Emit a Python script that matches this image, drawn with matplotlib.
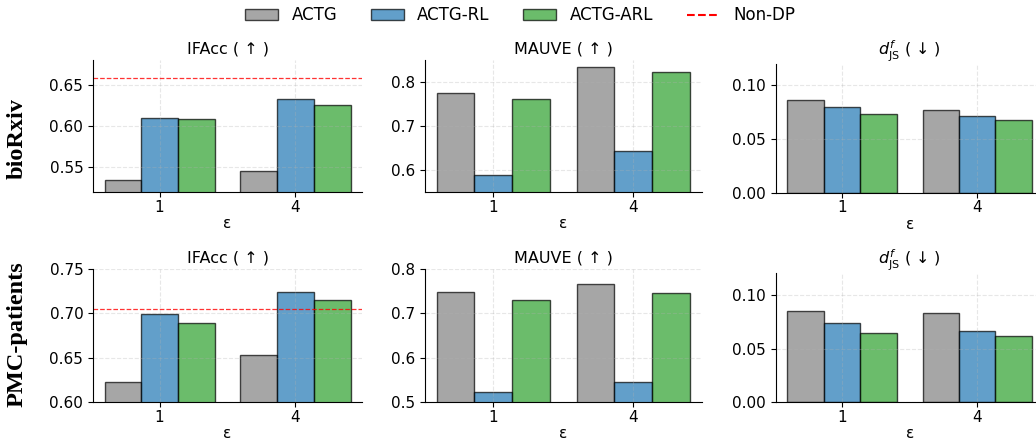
import numpy as np
import matplotlib.pyplot as plt
from matplotlib.patches import Patch
from matplotlib.lines import Line2D

eps_labels = ["1", "4"]
methods = ["ACTG", "ACTG-RL", "ACTG-ARL"]
colors = ["gray", "tab:blue", "tab:green"]
datasets = ["bioRxiv", "PMC-patients"]
metric_titles = ["IFAcc ( ↑ )", "MAUVE ( ↑ )", "$d^{f}_{\\mathrm{JS}}$ ( ↓ )"]

# bioRxiv
bio_ifacc = [[0.534, 0.546], [0.610, 0.633], [0.608, 0.625]]
bio_mauve = [[0.776, 0.834], [0.588, 0.644], [0.761, 0.823]]
bio_djs = [[0.0866, 0.0773], [0.0795, 0.0718], [0.0736, 0.0674]]
bio_nondp = 0.658

# PMC-patients
pmc_ifacc = [[0.622, 0.653], [0.699, 0.7245], [0.689, 0.715]]
pmc_mauve = [[0.749, 0.765], [0.523, 0.545], [0.731, 0.746]]
pmc_djs = [[0.0854, 0.0829], [0.0739, 0.0662], [0.0646, 0.0621]]
pmc_nondp = 0.7053

all_data = [[bio_ifacc, bio_mauve, bio_djs], [pmc_ifacc, pmc_mauve, pmc_djs]]
nondp = [bio_nondp, pmc_nondp]
ylims = [[(0.52, 0.68), (0.55, 0.85), (0, 0.12)],
         [(0.60, 0.75), (0.5, 0.8), (0, 0.12)]]
yticks = [[[0.55, 0.60, 0.65], [0.6, 0.7, 0.8], [0.0, 0.05, 0.10]],
          [[0.60, 0.65, 0.70, 0.75], [0.5, 0.6, 0.7, 0.8], [0.0, 0.05, 0.10]]]
ytick_fmt = [["%.2f", "%.1f", "%.2f"], ["%.2f", "%.1f", "%.2f"]]

# axes boxes (left, bottom, width, height) in figure fraction
boxes = [[(0.0898, 0.5636, 0.2597, 0.300), (0.4100, 0.5636, 0.2676, 0.300), (0.7490, 0.5621, 0.2582, 0.2925)],
         [(0.0898, 0.0864, 0.2597, 0.3023), (0.4100, 0.0864, 0.2676, 0.3023), (0.7490, 0.0857, 0.2582, 0.2930)]]

plt.rcParams['font.size'] = 11

fig = plt.figure(figsize=(10.36, 4.4), dpi=100)
x = np.arange(len(eps_labels))
w = 0.27

for r in range(2):
    for c in range(3):
        ax = fig.add_axes(boxes[r][c])
        vals = all_data[r][c]
        for i in range(3):
            ax.bar(x + (i - 1) * w, vals[i], width=w, color=colors[i],
                   edgecolor='black', linewidth=1.0, alpha=0.7)
        if c == 0:
            ax.axhline(nondp[r], color='red', linestyle='--', linewidth=0.9, alpha=0.8)
        ax.set_xticks(x)
        ax.set_xticklabels(eps_labels)
        ax.set_xlim(-0.49, 1.49)
        ax.set_ylim(*ylims[r][c])
        ax.set_yticks(yticks[r][c])
        ax.set_yticklabels([ytick_fmt[r][c] % v for v in yticks[r][c]])
        ax.tick_params(axis='x', pad=2)
        ax.set_xlabel("ε", fontsize=11, labelpad=1)
        ax.set_title(metric_titles[c], fontsize=11.5, pad=5)
        ax.grid(True, linestyle='--', alpha=0.3)
        ax.spines['top'].set_visible(False)
        ax.spines['right'].set_visible(False)

fig.text(0.0164, 0.686, datasets[0], rotation=90, ha='center', va='center',
         fontsize=17.5, fontweight='bold', family='Liberation Serif')
fig.text(0.0164, 0.240, datasets[1], rotation=90, ha='center', va='center',
         fontsize=17.5, fontweight='bold', family='Liberation Serif')

handles = [Patch(facecolor=colors[i], edgecolor='black', alpha=0.7, label=methods[i]) for i in range(3)]
handles.append(Line2D([0], [0], color='red', linestyle='--', linewidth=1.5, label='Non-DP'))
fig.legend(handles=handles, loc='center', bbox_to_anchor=(0.502, 0.965), ncol=4,
           frameon=False, fontsize=12, columnspacing=2.0)

fig.savefig("out.png", dpi=100)
